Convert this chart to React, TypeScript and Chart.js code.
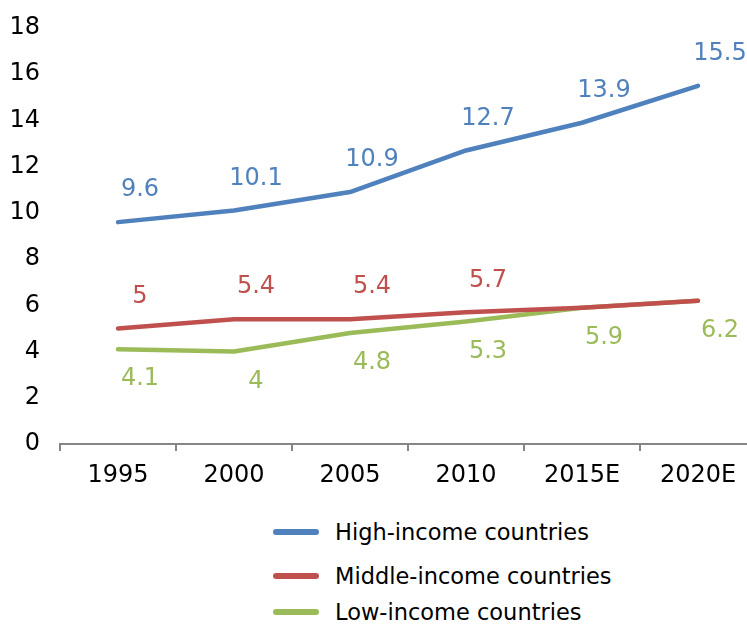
import React, { useEffect, useRef } from "react";
import { Chart, registerables } from "chart.js";

Chart.register(...registerables);

const categories = ["1995", "2000", "2005", "2010", "2015E", "2020E"];
const highIncome = [9.6, 10.1, 10.9, 12.7, 13.9, 15.5];
const middleIncome = [5, 5.4, 5.4, 5.7, 5.9, 6.2];
const lowIncome = [4.1, 4, 4.8, 5.3, 5.9, 6.2];
const yTicks = [0, 2, 4, 6, 8, 10, 12, 14, 16, 18];

const FONT = "'DejaVu Sans', Verdana, sans-serif";

const seriesStyle = [
  { label: "High-income countries", data: highIncome, color: "#4F81BD", above: true },
  { label: "Middle-income countries", data: middleIncome, color: "#C0504D", above: true },
  { label: "Low-income countries", data: lowIncome, color: "#9BBB59", above: false },
];

const legendRows = [532, 576, 612];

const labelPlugin = {
  id: "valueLabels",
  afterDatasetsDraw(chart: any) {
    const { ctx, scales } = chart;
    const xs = scales.x;
    const ys = scales.y;
    ctx.save();
    ctx.font = `24px ${FONT}`;
    ctx.textAlign = "center";
    ctx.textBaseline = "middle";
    seriesStyle.forEach((s, si) => {
      ctx.fillStyle = s.color;
      s.data.forEach((v, i) => {
        // hide middle-income label where it coincides with low-income
        if (si === 1 && v === lowIncome[i]) return;
        const x = xs.getPixelForValue(i) + 22;
        const y = ys.getPixelForValue(v) + (s.above ? -32 : 30);
        ctx.fillText(String(v), x, y);
      });
    });
    ctx.restore();
  },
};

export default function App() {
  const ref = useRef<HTMLCanvasElement | null>(null);

  useEffect(() => {
    if (!ref.current) return;
    const chart = new Chart(ref.current, {
      type: "line",
      data: {
        labels: categories,
        datasets: seriesStyle.map((s) => ({
          label: s.label,
          data: s.data,
          borderColor: s.color,
          backgroundColor: s.color,
          borderWidth: 4.5,
          pointRadius: 0,
          tension: 0,
          borderCapStyle: "round" as const,
          borderJoinStyle: "round" as const,
        })),
      },
      options: {
        animation: false,
        responsive: false,
        maintainAspectRatio: false,
        layout: { padding: { top: 28, right: 14, left: 0, bottom: 0 } },
        plugins: {
          legend: { display: false },
          tooltip: { enabled: false },
        },
        scales: {
          x: {
            offset: true,
            grid: {
              display: true,
              offset: true,
              drawOnChartArea: false,
              drawTicks: true,
              tickLength: 7,
              color: "#868686",
              lineWidth: 2,
            },
            border: { display: true, color: "#868686", width: 2 },
            ticks: {
              color: "#000",
              font: { family: FONT, size: 24 },
              padding: 10,
              maxRotation: 0,
            },
            afterFit: (scale: any) => {
              scale.height = 56;
              scale.paddingLeft = 0;
              scale.paddingRight = 0;
            },
          },
          y: {
            min: 0,
            max: 18,
            afterBuildTicks: (scale: any) => {
              scale.ticks = yTicks.map((v) => ({ value: v }));
            },
            grid: { display: false, drawTicks: false },
            border: { display: false },
            ticks: {
              color: "#000",
              font: { family: FONT, size: 24 },
              padding: 20,
            },
            afterFit: (scale: any) => {
              scale.width = 60;
              scale.paddingTop = 0;
              scale.paddingBottom = 0;
            },
          },
        },
      },
      plugins: [labelPlugin],
    });
    return () => chart.destroy();
  }, []);

  return (
    <div
      style={{
        position: "fixed",
        left: 0,
        top: 0,
        width: 747,
        height: 625,
        overflow: "hidden",
        background: "#fff",
      }}
    >
      <canvas ref={ref} width={770} height={500} style={{ position: "absolute", left: 0, top: 0 }} />
      {seriesStyle.map((s, i) => (
        <div
          key={s.label}
          style={{
            position: "absolute",
            left: 273,
            top: legendRows[i] - 16,
            height: 32,
            display: "flex",
            alignItems: "center",
            fontFamily: FONT,
            fontSize: 22.5,
            color: "#000",
            whiteSpace: "nowrap",
          }}
        >
          <span
            style={{
              display: "inline-block",
              width: 46,
              height: 6,
              borderRadius: 3,
              background: s.color,
              marginRight: 16,
            }}
          />
          <span>{s.label}</span>
        </div>
      ))}
    </div>
  );
}
